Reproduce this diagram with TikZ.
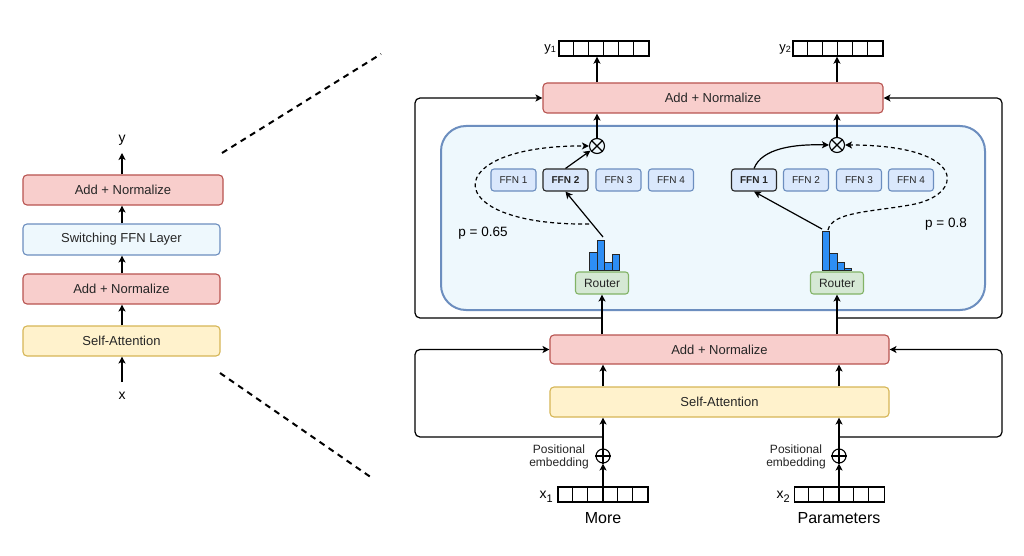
\documentclass[tikz,border=0pt]{standalone}
\usepackage{fontspec}
\setmainfont{Liberation Sans}
\usetikzlibrary{arrows.meta,calc}
\definecolor{redf}{HTML}{F8CECC}
\definecolor{redd}{HTML}{B85450}
\definecolor{bluef}{HTML}{DAE8FC}
\definecolor{blued}{HTML}{6C8EBF}
\definecolor{lbluef}{HTML}{EEF8FD}
\definecolor{yelf}{HTML}{FFF2CC}
\definecolor{yeld}{HTML}{D6B656}
\definecolor{grnf}{HTML}{D5E8D4}
\definecolor{grnd}{HTML}{82B366}
\definecolor{barc}{HTML}{2D8EF5}
\newcommand\vecdiv[1]{\foreach \i in {1,...,5}{\draw[line width=1.2pt] ([xshift=\i*15pt]#1.north west) -- ([xshift=\i*15pt]#1.south west);}}
\begin{document}
\begin{tikzpicture}[x=1pt,y=-1pt,
  fs/.style={font=\fontsize{#1}{#1}\selectfont},
  blk/.style={draw, rounded corners=4pt, line width=1.1pt, inner sep=0pt, text=black!85, fs=13},
  rbox/.style={blk, fill=redf, draw=redd},
  ybox/.style={blk, fill=yelf, draw=yeld},
  lbbox/.style={blk, fill=lbluef, draw=blued},
  gbox/.style={blk, fill=grnf, draw=grnd, fs=12, minimum width=53, minimum height=22, rounded corners=3pt},
  ffn/.style={blk, fill=bluef, draw=blued, fs=10, minimum width=45, minimum height=22, rounded corners=3pt},
  sel/.style={ffn, draw=black!85, font=\fontsize{10}{10}\selectfont\bfseries},
  vec/.style={draw, line width=1.4pt, minimum width=90, minimum height=15, inner sep=0pt},
  opc/.style={circle, draw, line width=1.1pt, minimum size=15, inner sep=0pt},
  arr/.style={-{Stealth[length=7pt,width=7pt,inset=1.8pt]}, line width=1.2pt},
  darr/.style={arr, dash pattern=on 4pt off 3pt},
  bar/.style={fill=barc, draw=black!85, line width=0.8pt},
  zoomline/.style={line width=2pt, dash pattern=on 6pt off 5pt},
]
\useasboundingbox[fill=white] (0,0) rectangle (1024,556);

% ---------- left column ----------
\node[rbox, minimum width=200, minimum height=30] (L1) at (123,190) {Add + Normalize};
\node[lbbox, minimum width=197, minimum height=31] (L2) at (121.5,239.5) {Switching FFN Layer};
\node[rbox, minimum width=197, minimum height=30] (L3) at (121.5,289) {Add + Normalize};
\node[ybox, minimum width=197, minimum height=30] (L4) at (121.5,341) {Self-Attention};
\node[fs=14, anchor=base, inner sep=0pt] (ly) at (122,143) {y};
\node[fs=14, anchor=base, inner sep=0pt] (lx) at (122,399) {x};
\coordinate (lytip) at (122,153);
\coordinate (lxtail) at (122,382);
\draw[arr] (L1.north -| lytip) -- (lytip);
\draw[arr] (L2.north -| lytip) -- (L1.south -| lytip);
\draw[arr] (L3.north -| lytip) -- (L2.south -| lytip);
\draw[arr] (L4.north -| lytip) -- (L3.south -| lytip);
\draw[arr] (lxtail) -- (L4.south -| lxtail);

% zoom lines
\coordinate (za) at (222,153);
\coordinate (zb) at (381,54);
\coordinate (zc) at (220,373);
\coordinate (zd) at (372,478);
\draw[zoomline] (za) -- (zb);
\draw[zoomline] (zc) -- (zd);

% ---------- right: top ----------
\node[rbox, minimum width=340, minimum height=30] (T) at (713,98) {Add + Normalize};
\node[vec] (y1v) at (604,48.5) {};
\vecdiv{y1v}
\node[vec] (y2v) at (838,48.5) {};
\vecdiv{y2v}
\node[anchor=base east, inner sep=0pt, fs=13] (y1l) at (556,52) {y\raisebox{-1pt}{\fontsize{9}{9}\selectfont 1}};
\node[anchor=base east, inner sep=0pt, fs=13] (y2l) at (791,52) {y\raisebox{-1pt}{\fontsize{9}{9}\selectfont 2}};

% container
\node[draw=blued, fill=lbluef, line width=2pt, rounded corners=25pt, minimum width=544, minimum height=184, inner sep=0pt] (C) at (713,218) {};

% combine ops
\node[opc] (O1) at (597,146) {};
\draw[line width=1.1pt] (O1.north west) -- (O1.south east) (O1.north east) -- (O1.south west);
\node[opc] (O2) at (837,145) {};
\draw[line width=1.1pt] (O2.north west) -- (O2.south east) (O2.north east) -- (O2.south west);

% FFN rows
\node[ffn] (aF1) at (513.5,180) {FFN 1};
\node[sel] (aF2) at (565.5,180) {FFN 2};
\node[ffn] (aF3) at (618.5,180) {FFN 3};
\node[ffn] (aF4) at (671,180) {FFN 4};
\node[sel] (bF1) at (754,180) {FFN 1};
\node[ffn] (bF2) at (806,180) {FFN 2};
\node[ffn] (bF3) at (859,180) {FFN 3};
\node[ffn] (bF4) at (911,180) {FFN 4};

% routers
\node[gbox] (R1) at (602,283) {Router};
\node[gbox] (R2) at (837,283) {Router};

% histograms
\draw[bar] (589.5,270) rectangle (597,252);
\draw[bar] (597,270) rectangle (604.5,240);
\draw[bar] (604.5,270) rectangle (612,262);
\draw[bar] (612,270) rectangle (619.5,254);
\draw[bar] (822.3,270) rectangle (829.7,231);
\draw[bar] (829.7,270) rectangle (837,253);
\draw[bar] (837,270) rectangle (844.4,262);
\draw[bar] (844.4,270) rectangle (851.8,268.3);

% routing arrows
\coordinate (h1) at (603,237);
\coordinate (h2) at (822,229);
\coordinate (d1) at (589,224);
\coordinate (d2) at (828,230);
\draw[arr] (h1) -- (aF2.south);
\draw[arr] (aF2.north) -- (O1);
\draw[darr] (d1) .. controls (438,226) and (438,145) .. (O1.west);
\draw[arr] (h2) -- (bF1.south);
\draw[arr] (bF1.north) .. controls (762,148) and (795,144) .. (O2.west);
\draw[darr] (d2) .. controls (832,212) and (870,212) .. (910,205) .. controls (965,196) and (970,145) .. (O2.east);
\node[fs=13.5] (pa) at (483,233) {p = 0.65};
\node[fs=13.5] (pb) at (946,224) {p = 0.8};

% outputs
\draw[arr] (O1) -- (T.south -| O1);
\draw[arr] (O2) -- (T.south -| O2);
\draw[arr] (T.north -| O1) -- (y1v.south -| O1);
\draw[arr] (T.north -| O2) -- (y2v.south -| O2);

% ---------- right: bottom ----------
\node[rbox, minimum width=339, minimum height=29] (M) at (719.5,349.5) {Add + Normalize};
\node[ybox, minimum width=339, minimum height=30] (S) at (719.5,402) {Self-Attention};
\draw[arr] (M.north -| R1) -- (R1.south);
\draw[arr] (M.north -| R2) -- (R2.south);

% residual frames (top)
\coordinate (j1) at (602,318);
\coordinate (j2) at (837,318);
\draw[arr, rounded corners=5pt] (j1) -- (415,318) |- (T.west);
\draw[arr, rounded corners=5pt] (j2) -- (1002,318) |- (T.east);

% positional add
\node[opc, minimum size=14] (P1) at (603,456) {};
\draw[line width=1.1pt] (P1.north) -- (P1.south) (P1.west) -- (P1.east);
\node[opc, minimum size=14] (P2) at (839,456) {};
\draw[line width=1.1pt] (P2.north) -- (P2.south) (P2.west) -- (P2.east);
\node[align=center, inner sep=0pt, font=\fontsize{12}{13.5}\selectfont, text=black!85] (pe1) at (559,457) {Positional\\embedding};
\node[align=center, inner sep=0pt, font=\fontsize{12}{13.5}\selectfont, text=black!85] (pe2) at (796,457) {Positional\\embedding};

\node[vec] (x1v) at (603,494.5) {};
\vecdiv{x1v}
\node[vec] (x2v) at (839.5,494.5) {};
\vecdiv{x2v}
\node[anchor=base east, inner sep=0pt, fs=14] (x1l) at (553,498) {x\raisebox{-4pt}{\fontsize{11}{11}\selectfont 1}};
\node[anchor=base east, inner sep=0pt, fs=14] (x2l) at (790,498) {x\raisebox{-4pt}{\fontsize{11}{11}\selectfont 2}};
\node[anchor=base, inner sep=0pt, fs=16] (w1) at (603,523) {More};
\node[anchor=base, inner sep=0pt, fs=16] (w2) at (839,523) {Parameters};

\draw[arr] (x1v.south -| P1) -- (P1);
\draw[arr] (x2v.south -| P2) -- (P2);
\draw[arr] (P1) -- (S.south -| P1);
\draw[arr] (P2) -- (S.south -| P2);
\draw[arr] (S.north -| P1) -- (M.south -| P1);
\draw[arr] (S.north -| P2) -- (M.south -| P2);

% residual frames (bottom)
\coordinate (j3) at (603,437);
\coordinate (j4) at (839,437);
\draw[arr, rounded corners=5pt] (j3) -- (415,437) |- (M.west);
\draw[arr, rounded corners=5pt] (j4) -- (1002,437) |- (M.east);
\end{tikzpicture}
\end{document}
